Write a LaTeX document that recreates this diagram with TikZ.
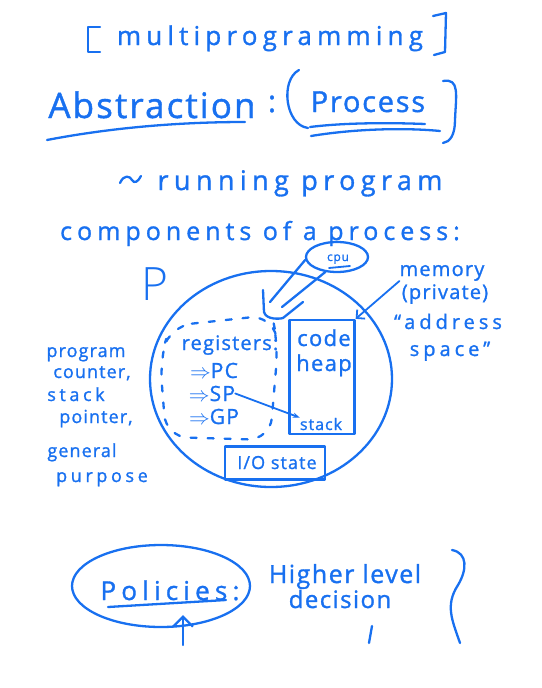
\documentclass[tikz,border=0pt]{standalone}
\usepackage{fontspec}
\setmainfont{Open Sans}
\newfontfamily\hand{Open Sans}[LetterSpace=6,FakeBold=1.2]
\newfontfamily\handwide{Open Sans}[LetterSpace=20,FakeBold=1.2]
\usetikzlibrary{arrows.meta,shapes.geometric}
\definecolor{ink}{RGB}{24,112,240}

\begin{document}
\begin{tikzpicture}[x=1pt,y=-1pt,
    pen/.style={draw=ink,line width=2.3pt,line cap=round,line join=round},
    thin pen/.style={draw=ink,line width=1.8pt,line cap=round,line join=round},
    word/.style={text=ink,inner sep=0pt,anchor=base,font=\hand\fontsize{#1}{#1}\selectfont},
    word/.default=20,
    wide/.style={text=ink,inner sep=0pt,anchor=base,font=\handwide\fontsize{#1}{#1}\selectfont},
    bubble/.style={pen,ellipse,inner sep=0pt},
    box/.style={pen,rectangle,inner sep=0pt}]
\useasboundingbox (0,0) rectangle (541,688);

% title
\node[wide=26] (multi) at (270,45) {multiprogramming};
\draw[pen] (100,27) -- (88,27) -- (88,52) -- (100,52);
\draw[pen] (433,16) -- (446,13) -- (445,52) -- (434,55);

\node[word=35] (abs) at (152,118) {Abstraction};
\draw[pen] (47,140) .. controls (120,126) and (190,122) .. (245,122);
\node[word=30] (colon) at (272,112) {:};
\node[word=29] (proc) at (368,112) {Process};
\draw[pen] (299,70) .. controls (280,80) and (285,125) .. (308,128);
\draw[pen] (310,127) .. controls (350,122) and (400,123) .. (425,124);
\draw[pen] (311,136) .. controls (360,128) and (410,128) .. (440,131);
\draw[pen] (443,81) .. controls (460,78) and (456,95) .. (455,120) .. controls (455,135) and (450,142) .. (443,143);

\node[wide=27] (run) at (300,190) {running program};
\draw[pen] (120,183) .. controls (124,174) and (130,176) .. (132,180) .. controls (134,184) and (138,182) .. (141,176);

\node[wide=25] (comp) at (260,240) {components of a process:};

% process
\node[text=ink,inner sep=0pt,anchor=base,font=\fontspec{Open Sans Light}\fontsize{46}{46}\selectfont] (P) at (155,300) {P};
\node[bubble,minimum width=242,minimum height=216] (proc circle) at (271,379) {};

\node[bubble,minimum width=62,minimum height=30] (cpu) at (337,257) {};
\node[word=12] (cpu text) at (338,261) {cpu};
\draw[thin pen] (329,268) -- (350,266);
\coordinate (cpu tip) at (273,318);
\draw[pen] (cpu.185) -- (270,302);
\draw[pen] (cpu.232) -- (282,307);
\draw[pen] (263,290) -- (264,312) .. controls (266,320) and (280,319) .. (cpu tip -| 283,318) -- (303,302);

\draw[pen,dash pattern=on 6pt off 11pt,rounded corners=22] (170,326) -- (272,315) -- (278,345) -- (270,440) -- (166,437) -- (160,360) -- cycle;
\node[word=20] (regs) at (230,350) {registers:};
\node[word=21] (pc) at (214,378) {$\Rightarrow$PC};
\node[word=21] (sp) at (212,401) {$\Rightarrow$SP};
\node[word=21] (gp) at (214,424) {$\Rightarrow$GP};

\node[box,minimum width=65,minimum height=114] (mem) at (322,377) {};
\node[word=22] (code) at (324,346) {code};
\node[word=22] (heap) at (324,371) {heap};
\node[word=16] (stack) at (321,430) {stack};
\draw[thin pen,-{Stealth[length=7pt]}] (sp.east) -- (stack.north west);

\node[box,minimum width=100,minimum height=33] (io) at (275,463) {};
\node[word=18] (io text) at (277,469) {I/O state};

% memory label
\node[word=20] (memory) at (442,276) {memory};
\node[word=20] (private) at (445,299) {(private)};
\node[wide=20] (address) at (448,329) {“address};
\node[wide=20] (space) at (450,356) {space”};
\draw[thin pen,-{Straight Barb[length=6pt]}] (memory.south west) -- (mem.north east);

% left labels
\node[word=18] at (86,357) {program};
\node[word=18] at (92,378) {counter,};
\node[wide=18] at (76,401) {stack};
\node[word=18] at (96,423) {pointer,};
\node[word=18] at (82,457) {general};
\node[wide=18] at (102,482) {purpose};

% policies
\node[bubble,minimum width=178,minimum height=82] (pol) at (161,586) {};
\node[wide=26] (poltext) at (170,600) {Policies:};
\draw[pen] (108,607) -- (226,600);
\coordinate (foot) at (183,645);
\draw[pen,-{Straight Barb[length=10pt,width=20pt]}] (foot) -- (183,615);

\node[word=25] (higher) at (345,583) {Higher level};
\node[word=24] (decision) at (340,608) {decision};
\draw[pen] (372,626) -- (369,643);
\draw[pen] (452,550) .. controls (468,553) and (467,570) .. (458,585) .. controls (445,605) and (452,620) .. (460,643);
\end{tikzpicture}
\end{document}
